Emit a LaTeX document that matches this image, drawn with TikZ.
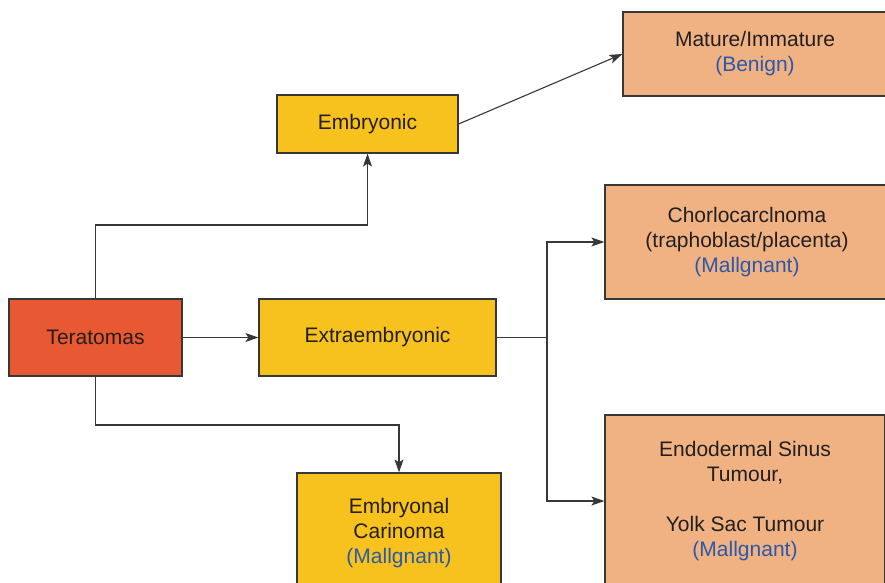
\documentclass[tikz,border=0pt]{standalone}
\usepackage{fontspec}
\setmainfont{Liberation Sans}
\usetikzlibrary{arrows.meta}
\definecolor{terc}{RGB}{232,88,51}
\definecolor{yelc}{RGB}{248,194,30}
\definecolor{salc}{RGB}{240,178,130}
\definecolor{bluc}{RGB}{44,88,170}
\definecolor{txtc}{RGB}{35,31,32}
\definecolor{linc}{RGB}{55,55,55}
\tikzset{
  box/.style={draw=linc, line width=1.2pt, inner sep=0pt, align=center, text=txtc,
    font=\fontsize{21}{25}\selectfont},
  arr/.style={draw=linc, line width=1.1pt, -{Stealth[length=13pt,width=9pt,inset=3pt]}},
  ln/.style={draw=linc, line width=1.1pt},
}
\newcommand{\bl}[1]{\textcolor{bluc}{#1}}
\begin{document}
\begin{tikzpicture}[x=1pt,y=-1pt]
\useasboundingbox (0,0) rectangle (885,582);
\node[box, fill=terc, minimum width=173pt, minimum height=77pt] (ter) at (95.5,337.5) {Teratomas};
\node[box, fill=yelc, minimum width=237pt, minimum height=77pt] (ext) at (377.5,337.5) {Extraembryonic};
\node[box, fill=yelc, minimum width=181pt, minimum height=58pt] (emb) at (367.5,124) {Embryonic};
\node[box, fill=yelc, minimum width=204pt, minimum height=120pt] (emb2) at (399,533) {Embryonal\\Carinoma\\\bl{(Mallgnant)}};
\node[box, fill=salc, minimum width=264pt, minimum height=84pt] (mat) at (755,54) {Mature/Immature\\\bl{(Benign)}};
\node[box, fill=salc, minimum width=284pt, minimum height=114pt] (cho) at (747,242) {Chorlocarclnoma\\(traphoblast/placenta)\\\bl{(Mallgnant)}};
\node[box, fill=salc, minimum width=280pt, minimum height=172pt] (endo) at (745,501) {Endodermal Sinus\\Tumour,\\[25pt]Yolk Sac Tumour\\\bl{(Mallgnant)}};
\coordinate (j1) at (95.5,225);
\coordinate (j2) at (95.5,425);
\coordinate (br) at (547,337.5);
\draw[arr] (ter.east) -- (ext.west);
\draw[arr] (ter.north) -- (j1) -| (emb.south);
\draw[arr] (ter.south) -- (j2) -| (emb2.north);
\draw[ln] (ext.east) -- (br);
\draw[arr] (br) |- (cho.west);
\draw[arr] (br) |- (endo.west);
\draw[arr] (emb.east) -- (mat.west);
\end{tikzpicture}
\end{document}
